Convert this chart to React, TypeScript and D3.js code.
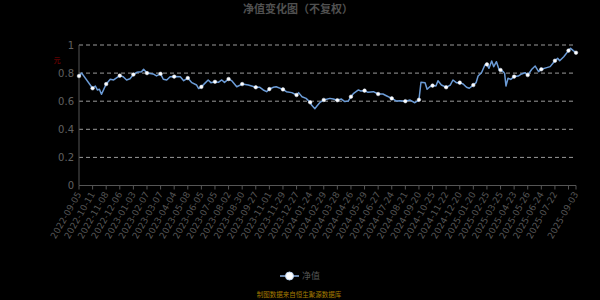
import React, { useEffect } from "react";
import * as d3 from "d3";

// Category axis: trading-day index 0..731, labels every 20 days plus the last day
const totalPoints = 732;
const tickLabels = [
  "2022-09-05", "2022-10-11", "2022-11-08", "2022-12-06", "2023-01-03", "2023-02-07",
  "2023-03-07", "2023-04-04", "2023-05-08", "2023-06-05", "2023-07-05", "2023-08-02",
  "2023-08-30", "2023-09-27", "2023-11-01", "2023-11-29", "2023-12-27", "2024-01-24",
  "2024-02-29", "2024-03-28", "2024-04-26", "2024-05-29", "2024-06-27", "2024-07-24",
  "2024-08-21", "2024-09-20", "2024-10-25", "2024-11-22", "2024-12-20", "2025-01-20",
  "2025-02-25", "2025-03-25", "2025-04-23", "2025-05-26", "2025-06-24", "2025-07-22",
];
const lastLabel = "2025-09-03";
const tickStep = 20;

// Net value series: trading-day index and value
const navIndex = [
  0, 4, 20, 24, 27, 30, 33, 40, 46, 51, 60, 65, 70, 75, 80, 85, 92, 95, 100, 109,
  114, 120, 124, 129, 134, 140, 149, 154, 160, 166, 173, 176, 180, 185, 190, 194, 200, 205, 210, 214,
  220, 225, 232, 240, 249, 260, 266, 271, 276, 280, 286, 290, 300, 305, 313, 320, 323, 328, 334, 340,
  342, 347, 350, 354, 360, 369, 374, 380, 386, 391, 396, 400, 404, 411, 414, 420, 425, 433, 440, 447,
  452, 460, 467, 472, 480, 487, 494, 500, 503, 509, 512, 516, 520, 525, 528, 533, 540, 546, 550, 555,
  560, 565, 570, 574, 580, 584, 587, 592, 597, 600, 603, 607, 610, 614, 618, 620, 624, 626, 628, 631,
  635, 640, 646, 651, 656, 660, 666, 671, 676, 680, 688, 693, 700, 704, 707, 713, 720, 723, 727, 731,
];
const navValues = [
  0.779, 0.8, 0.692, 0.708, 0.68, 0.685, 0.649, 0.722, 0.756, 0.751, 0.782, 0.774, 0.751, 0.76, 0.79, 0.806, 0.81, 0.827, 0.8, 0.794,
  0.78, 0.795, 0.756, 0.751, 0.774, 0.775, 0.774, 0.746, 0.765, 0.732, 0.715, 0.69, 0.702, 0.727, 0.751, 0.732, 0.738, 0.734, 0.751, 0.734,
  0.758, 0.744, 0.703, 0.722, 0.715, 0.699, 0.699, 0.68, 0.668, 0.686, 0.699, 0.703, 0.684, 0.668, 0.661, 0.644, 0.661, 0.632, 0.62, 0.592,
  0.573, 0.547, 0.566, 0.589, 0.609, 0.62, 0.615, 0.607, 0.615, 0.597, 0.601, 0.632, 0.656, 0.68, 0.673, 0.675, 0.663, 0.668, 0.651, 0.651,
  0.639, 0.62, 0.601, 0.603, 0.6, 0.608, 0.589, 0.61, 0.735, 0.732, 0.685, 0.703, 0.711, 0.708, 0.746, 0.715, 0.699, 0.715, 0.751, 0.732,
  0.732, 0.722, 0.699, 0.692, 0.715, 0.732, 0.779, 0.803, 0.858, 0.862, 0.834, 0.886, 0.846, 0.881, 0.822, 0.822, 0.81, 0.798, 0.708, 0.763,
  0.755, 0.775, 0.779, 0.794, 0.803, 0.786, 0.827, 0.85, 0.81, 0.827, 0.839, 0.846, 0.888, 0.905, 0.888, 0.917, 0.96, 0.976, 0.96, 0.945,
];
const yTicks = [0, 0.2, 0.4, 0.6, 0.8, 1];

const title = "净值变化图（不复权）";
const legendLabel = "净值";
const unitLabel = "元";
const sourceNote = "制图数据来自恒生聚源数据库";

const W = 600;
const H = 300;
const left = 79;
const right = 576;
const top = 45;
const bottom = 185.5;
const FONT = "'DejaVu Sans', 'Noto Sans CJK SC', sans-serif";
const LINE = "#6b9bd6";

export default function App() {
  useEffect(() => {
    document.body.style.margin = "0";
    document.body.style.background = "#000";
  }, []);

  const x = d3.scaleLinear().domain([0, totalPoints - 1]).range([left, right]);
  const y = d3.scaleLinear().domain([0, 1]).range([bottom, top]);

  const pts = navIndex.map((i, k) => [i, navValues[k]] as [number, number]);
  const line = d3
    .line<[number, number]>()
    .x((d) => x(d[0]))
    .y((d) => y(d[1]));

  const tickIdx = d3.range(0, totalPoints, tickStep);
  const labelled = tickLabels.map((t, k) => ({ t, i: k * tickStep }));
  labelled.push({ t: lastLabel, i: totalPoints - 1 });

  const markers = pts.filter((p) => p[0] % tickStep === 0 || p[0] === totalPoints - 1);

  return (
    <svg
      width={W}
      height={H}
      style={{ position: "fixed", left: 0, top: 0, background: "#000", display: "block" }}
      fontFamily={FONT}
    >
      <rect x={0} y={0} width={W} height={H} fill="#000" />
      <text x={298} y={13} textAnchor="middle" fontSize={11} fontWeight="bold" fill="#505050">
        {title}
      </text>
      <text x={57} y={63} textAnchor="middle" fontSize={7} fill="#8b0000">
        {unitLabel}
      </text>

      {yTicks.map((v) => (
        <g key={v}>
          {v > 0 && (
            <line
              x1={left}
              x2={right - 3}
              y1={y(v)}
              y2={y(v)}
              stroke="#9a9a9a"
              strokeWidth={1}
              strokeDasharray="4,3"
            />
          )}
          <text x={74} y={y(v)} dy="0.35em" textAnchor="end" fontSize={10} fill="#606060">
            {String(v)}
          </text>
        </g>
      ))}

      <line x1={left} x2={left} y1={top} y2={bottom} stroke="#555" strokeWidth={1} />
      <line x1={left} x2={right} y1={bottom} y2={bottom} stroke="#555" strokeWidth={1} />
      {[...tickIdx, totalPoints - 1].map((i) => (
        <line key={i} x1={x(i)} x2={x(i)} y1={bottom} y2={bottom + 4} stroke="#555" strokeWidth={1} />
      ))}
      {labelled.map(({ t, i }) => (
        <text
          key={t}
          transform={`translate(${x(i)},${bottom + 7}) rotate(-60)`}
          textAnchor="end"
          dy="0.35em"
          fontSize={9}
          fill="#555"
        >
          {t}
        </text>
      ))}

      <path d={line(pts) || ""} fill="none" stroke={LINE} strokeWidth={1.5} strokeLinejoin="round" />
      {markers.map((p) => (
        <circle key={p[0]} cx={x(p[0])} cy={y(p[1])} r={1.8} fill="#fff" stroke="#dce8f8" strokeWidth={0.5} />
      ))}

      <line x1={280} x2={299} y1={276} y2={276} stroke="#8fb5e6" strokeWidth={1.5} />
      <circle cx={289.5} cy={276} r={4} fill="#fff" stroke="#bcd4f2" strokeWidth={1} />
      <text x={302} y={276} dy="0.35em" fontSize={9} fill="#555">
        {legendLabel}
      </text>
      <text x={299} y={295} dy="0.35em" textAnchor="middle" fontSize={6.5} fill="#a67c00">
        {sourceNote}
      </text>
    </svg>
  );
}
